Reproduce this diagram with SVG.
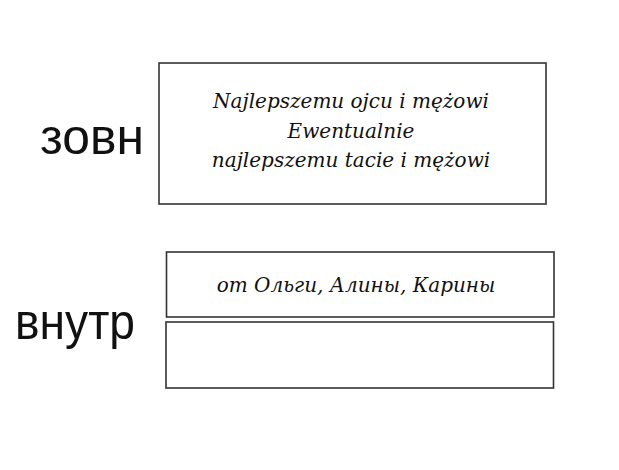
<svg xmlns="http://www.w3.org/2000/svg" width="619" height="470" viewBox="0 0 619 470">
<style>
.box{fill:#fff;stroke:#333;stroke-width:1.6}
.lbl{font-family:"Liberation Sans",Arial,sans-serif;font-size:50px;fill:#111}
.it{font-family:"DejaVu Serif","Liberation Serif",serif;font-style:italic;font-size:20px;fill:#111;text-anchor:middle}
</style>
<rect width="619" height="470" fill="#fff"/>
<g id="label-outer"><text class="lbl" x="40" y="154" textLength="104" lengthAdjust="spacingAndGlyphs">зовн</text></g>
<g id="label-inner"><text class="lbl" x="15" y="339" textLength="120" lengthAdjust="spacingAndGlyphs">внутр</text></g>
<g id="outer-box">
<rect class="box" x="159" y="63" width="387" height="141"/>
<text class="it" x="351" y="108">Najlepszemu ojcu i mężowi</text>
<text class="it" x="351" y="138">Ewentualnie</text>
<text class="it" x="351" y="167">najlepszemu tacie i mężowi</text>
</g>
<g id="inner-box-1">
<rect class="box" x="166.5" y="252" width="387.5" height="65"/>
<text class="it" x="356" y="292">от Ольги, Алины, Карины</text>
</g>
<g id="inner-box-2">
<rect class="box" x="166" y="322" width="387.5" height="66"/>
</g>
<g id="connectors"/>
</svg>
